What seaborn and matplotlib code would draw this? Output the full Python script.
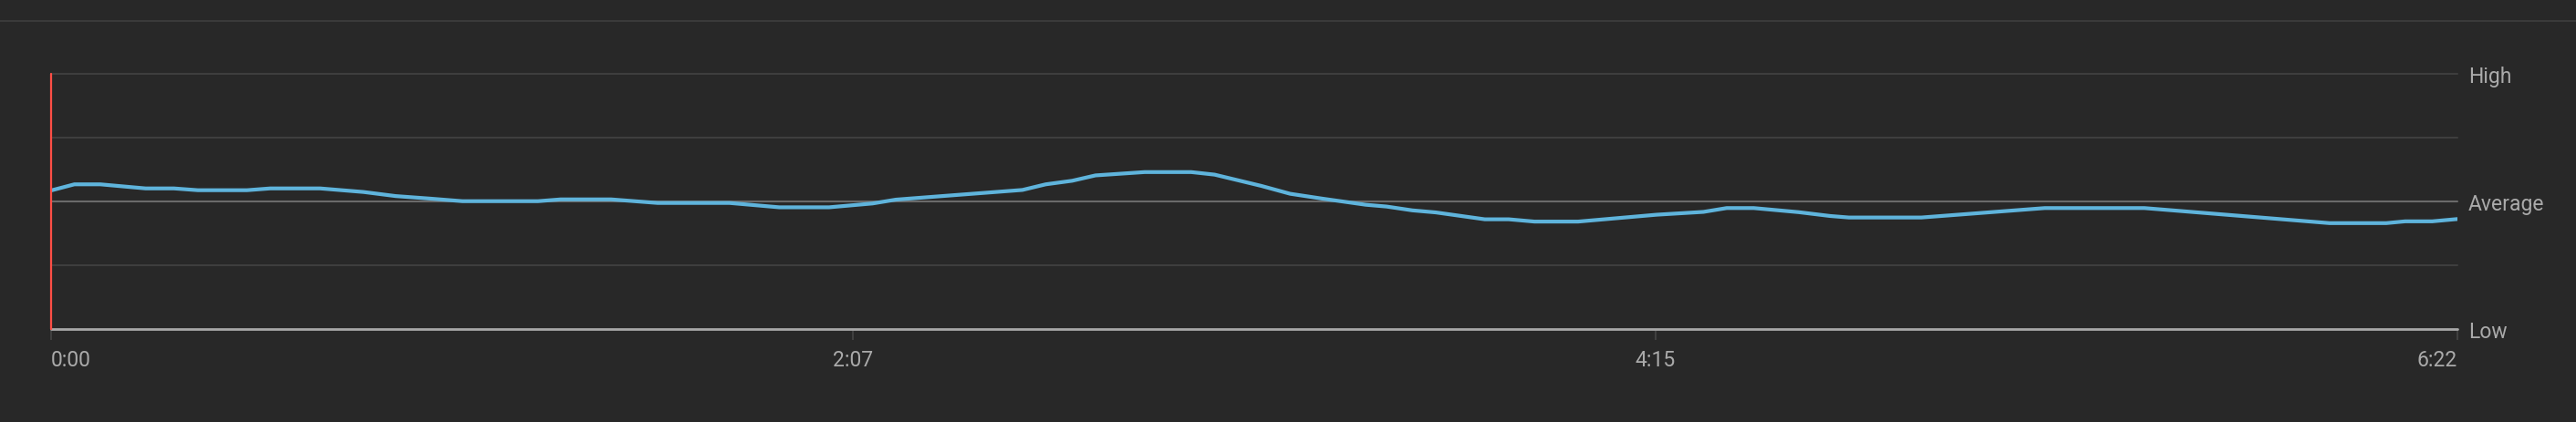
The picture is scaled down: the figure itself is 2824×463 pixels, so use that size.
import matplotlib
matplotlib.use("Agg")
import matplotlib.pyplot as plt
from matplotlib.lines import Line2D
import pandas as pd
import seaborn as sns

# audience retention, x = seconds into the video, y = 0 (low) .. 1 (high), 0.5 = average
video_sec = [0, 3.7, 7.8, 15.0, 19.5, 23.3, 31.1, 34.8, 42.7, 49.6, 54.7, 60.2, 65.3,
             77.3, 80.9, 88.9, 96.3, 107.7, 115.6, 123.5, 130.4, 134.1, 136.7, 154.2,
             157.9, 162.1, 165.8, 173.6, 181.0, 184.7, 192.1, 196.7, 201.8, 208.7,
             212.0, 216.1, 219.8, 227.6, 231.4, 235.5, 242.4, 254.9, 262.3, 266.0,
             270.3, 277.4, 282.4, 285.4, 296.9, 316.5, 332.3, 361.7, 370.7, 373.7,
             378.0, 382]
retention = [0.543, 0.567, 0.567, 0.551, 0.551, 0.544, 0.544, 0.551, 0.551, 0.537,
             0.521, 0.511, 0.501, 0.501, 0.508, 0.508, 0.494, 0.494, 0.477, 0.477,
             0.492, 0.507, 0.512, 0.545, 0.567, 0.581, 0.602, 0.615, 0.615, 0.605,
             0.561, 0.530, 0.511, 0.487, 0.480, 0.465, 0.457, 0.430, 0.430, 0.421,
             0.421, 0.448, 0.459, 0.474, 0.474, 0.458, 0.443, 0.437, 0.437, 0.474,
             0.474, 0.415, 0.415, 0.422, 0.422, 0.431]

duration = 382
x_tick_pos = [0, duration / 3, 2 * duration / 3, duration]
x_tick_labels = ["0:00", "2:07", "4:15", "6:22"]
y_tick_pos = [0, 0.25, 0.5, 0.75, 1]
y_tick_labels = ["Low", "", "Average", "", "High"]

df = pd.DataFrame({"sec": video_sec, "retention": retention})

bg = "#282828"
sns.set_theme(style="dark")
plt.rcParams["font.family"] = ["Roboto", "DejaVu Sans"]

fig = plt.figure(figsize=(28.24, 4.64), dpi=100, facecolor=bg)
ax = fig.add_axes([56 / 2824, 1 - 362 / 464, (2694 - 56) / 2824, 280 / 464])
ax.set_facecolor(bg)

sns.lineplot(data=df, x="sec", y="retention", ax=ax, color="#5fb4dc", linewidth=3.0, zorder=5)

ax.set_xlim(0, duration)
ax.set_ylim(0, 1)
for s in ax.spines.values():
    s.set_visible(False)

ax.yaxis.tick_right()
ax.set_yticks(y_tick_pos)
ax.set_yticklabels(y_tick_labels)
ax.tick_params(axis="y", length=0, pad=8.5, labelsize=16.5, labelcolor="#aaaaaa")
ax.grid(True, axis="y", linewidth=1.5, color="#3e3e3e")
ax.grid(False, axis="x")
glines = ax.get_ygridlines()
glines[0].set_color("#a8a8a8")
glines[0].set_linewidth(2)
glines[2].set_color("#6a6a6a")
for g in glines:
    g.set_clip_on(False)

ax.set_xticks(x_tick_pos)
ax.set_xticklabels(x_tick_labels)
ax.tick_params(axis="x", direction="out", length=8.5, width=1.2, color="#454545",
               pad=7, labelsize=16.5, labelcolor="#aaaaaa", bottom=True)
xl = ax.get_xticklabels()
xl[0].set_horizontalalignment("left")
xl[-1].set_horizontalalignment("right")

ax.set_xlabel("")
ax.set_ylabel("")

# playhead
ax.axvline(0, color="#ff4e45", linewidth=1.6, zorder=6, clip_on=False)

# separator across the top
fig.add_artist(Line2D([0, 1], [1 - 24 / 464, 1 - 24 / 464], transform=fig.transFigure,
                      color="#3e3e3e", linewidth=1.2))

fig.savefig("out.png", dpi=100, facecolor=bg)
